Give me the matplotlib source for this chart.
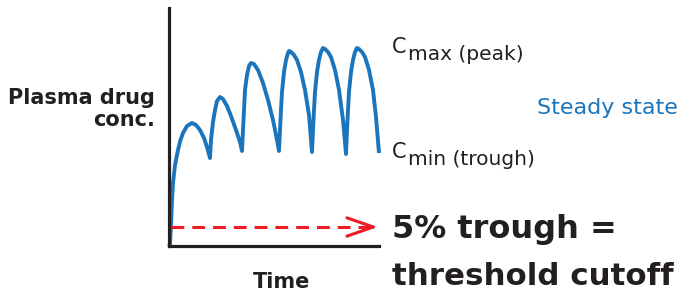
import matplotlib.pyplot as plt

W, H = 681, 293

# plasma concentration (time and conc in arbitrary units)
time = [0.0, 0.1, 0.2, 0.3, 0.4, 0.6, 0.9, 1.15, 1.4, 1.8, 2.3, 2.7, 3.1, 3.5, 3.8, 4.1,
        4.2, 4.4, 4.6, 4.8, 5.1, 5.4, 5.8, 6.2, 6.7, 7.1, 7.3,
        7.4, 7.5, 7.6, 7.8, 8.0, 8.2, 8.5, 8.9, 9.4, 9.9, 10.4, 10.8, 11.0,
        11.1, 11.2, 11.3, 11.5, 11.7, 11.9, 12.0, 12.2, 12.5, 12.8, 13.2, 13.6, 14.0, 14.3,
        14.4, 14.5, 14.6, 14.8, 15.0, 15.2, 15.4, 15.6, 15.9, 16.2, 16.6, 17.0, 17.4, 17.7,
        17.8, 17.9, 18.0, 18.2, 18.4, 18.6, 18.8, 19.0, 19.3, 19.6, 20.0, 20.4, 20.7, 21.0]
conc = [0.0, 0.2, 2.1, 4.6, 6.3, 8.1, 9.6, 10.6, 11.3, 12.0, 12.3, 12.1, 11.6, 10.8, 9.9, 8.8,
        10.6, 12.4, 13.6, 14.5, 14.9, 14.7, 14.0, 13.0, 11.6, 10.4, 9.5,
        11.6, 13.6, 15.6, 17.1, 18.0, 18.3, 18.2, 17.6, 16.3, 14.6, 12.6, 10.6, 9.5,
        11.6, 13.6, 15.4, 17.4, 18.6, 19.3, 19.5, 19.4, 19.1, 18.6, 17.4, 15.6, 13.1, 9.4,
        11.6, 13.6, 15.4, 17.4, 18.6, 19.4, 19.8, 19.7, 19.4, 18.9, 17.6, 15.6, 12.6, 9.2,
        11.6, 13.6, 15.4, 17.4, 18.6, 19.4, 19.8, 19.7, 19.4, 18.9, 17.6, 15.6, 12.9, 9.3]

threshold = 1.9   # 5% trough line
arrow_start, arrow_end = 0.2, 20.9

ink = '#231f20'
blue = '#1b75bc'
red = '#ed1c24'
plt.rcParams['font.family'] = ['DejaVu Sans']

fig = plt.figure(figsize=(W / 100, H / 100), dpi=100)
ax = fig.add_axes([169 / W, (H - 246) / H, 210 / W, 238 / H])
ax.set_xlim(0, 21)
ax.set_ylim(0, 23.8)

ax.plot(time, conc, color=blue, lw=2.8, solid_joinstyle='round', solid_capstyle='butt', clip_on=False)

ax.plot([arrow_start, arrow_end - 0.3], [threshold, threshold], color=red, lw=2.2,
        dashes=(4.2, 2.6), clip_on=False)
ax.annotate('', xy=(arrow_end, threshold), xytext=(arrow_end - 1.0, threshold),
            arrowprops=dict(arrowstyle='->,head_length=0.95,head_width=0.33',
                            color=red, lw=2.2, mutation_scale=20, shrinkA=0, shrinkB=0))

for s in ['top', 'right']:
    ax.spines[s].set_visible(False)
for s in ['left', 'bottom']:
    ax.spines[s].set_linewidth(2.3)
    ax.spines[s].set_color(ink)
    ax.spines[s].set_capstyle('projecting')
ax.set_xticks([])
ax.set_yticks([])


def px(x, y):
    return x / W, 1 - y / H


fig.text(*px(155, 104), 'Plasma drug', ha='right', va='baseline', fontsize=15,
         fontweight='bold', color=ink)
fig.text(*px(155, 126), 'conc.', ha='right', va='baseline', fontsize=15,
         fontweight='bold', color=ink)
fig.text(*px(282, 288), 'Time', ha='center', va='baseline', fontsize=15,
         fontweight='bold', color=ink)

fig.text(*px(392, 53), 'C', va='baseline', fontsize=15, color=ink)
fig.text(*px(408, 60), 'max (peak)', va='baseline', fontsize=14.5, color=ink)
fig.text(*px(392, 158), 'C', va='baseline', fontsize=15, color=ink)
fig.text(*px(408, 165), 'min (trough)', va='baseline', fontsize=14.5, color=ink)
fig.text(*px(678, 114), 'Steady state', ha='right', va='baseline', fontsize=16, color=blue)

fig.text(*px(392, 238), '5% trough =', va='baseline', fontsize=23, fontweight='bold', color=ink)
fig.text(*px(392, 285), 'threshold cutoff', va='baseline', fontsize=22.2, fontweight='bold', color=ink)

fig.savefig('out.png', dpi=100)
